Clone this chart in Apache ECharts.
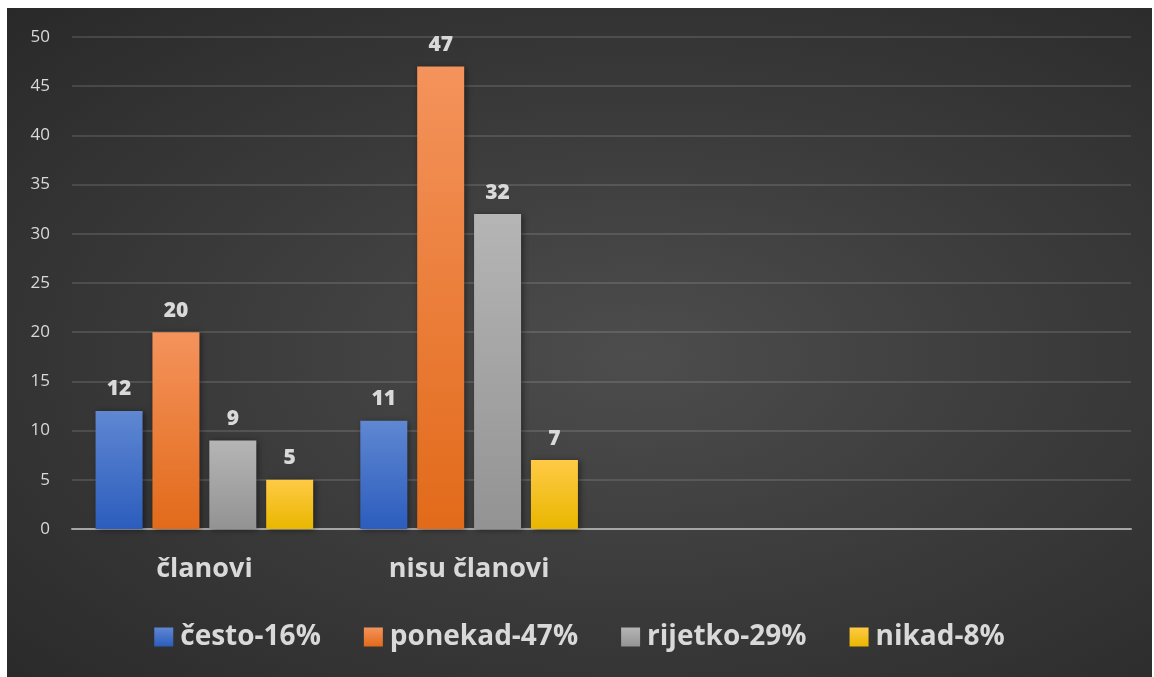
<!DOCTYPE html>
<html>
<head>
<meta charset="utf-8">
<script src="https://cdn.jsdelivr.net/npm/echarts@6/dist/echarts.min.js"></script>
<style>
    html, body {
        margin: 0;
        padding: 0;
        width: 1154px;
        height: 677px;
        background: #ffffff;
        overflow: hidden;
    }
    #chart {
        position: absolute;
        left: 7px;
        top: 8px;
        width: 1145px;
        height: 669px;
        background: radial-gradient(ellipse at 55% 52%, #4d4d4d 0%, #3c3c3c 45%, #292929 100%);
    }
</style>
</head>
<body>
<div id="chart"></div>
<script>
// kategorije (zadnje dvije su prazne u originalu)
const categories = ['članovi', 'nisu članovi', '', '']
const seriesNames = ['često-16%', 'ponekad-47%', 'rijetko-29%', 'nikad-8%']
const cesto = [12, 11, null, null]
const ponekad = [20, 47, null, null]
const rijetko = [9, 32, null, null]
const nikad = [5, 7, null, null]
const yTicks = { min: 0, max: 50, step: 5 }

const textColor = '#d9d9d9'
const fontFamily = '"Open Sans", Lato, sans-serif'

function grad(top, bottom) {
    return new echarts.graphic.LinearGradient(0, 0, 0, 1, [
        { offset: 0, color: top },
        { offset: 1, color: bottom }
    ])
}

const colors = [
    grad('#5f87d2', '#2c5dbd'),
    grad('#f4935c', '#e26a1a'),
    grad('#b5b5b5', '#939393'),
    grad('#ffca45', '#e9b700')
]

function makeSeries(name, data, i) {
    return {
        name: name,
        type: 'bar',
        data: data,
        barWidth: 47,
        barGap: '21%',
        itemStyle: {
            color: colors[i],
            shadowColor: 'rgba(0,0,0,0.45)',
            shadowBlur: 6,
            shadowOffsetX: 2,
            shadowOffsetY: 1
        },
        label: {
            show: true,
            position: 'top',
            distance: 11,
            color: textColor,
            fontFamily: fontFamily,
            fontWeight: 800,
            fontSize: 21
        }
    }
}

const chart = echarts.init(document.getElementById('chart'))
const option = {
    backgroundColor: 'transparent',
    animation: false,
    grid: {
        left: 65,
        right: 21,
        top: 29,
        bottom: 148
    },
    legend: {
        bottom: 21,
        left: 'center',
        itemWidth: 19,
        itemHeight: 19,
        itemGap: 43,
        icon: 'rect',
        textStyle: {
            color: textColor,
            fontFamily: fontFamily,
            fontWeight: 'bold',
            fontSize: 28,
            padding: [0, 0, 0, 2]
        },
        data: seriesNames
    },
    xAxis: {
        type: 'category',
        data: categories,
        axisLine: {
            lineStyle: { color: '#a6a6a6', width: 2 }
        },
        axisTick: { show: false },
        axisLabel: {
            color: textColor,
            fontFamily: fontFamily,
            fontWeight: 'bold',
            fontSize: 27,
            margin: 27
        }
    },
    yAxis: {
        type: 'value',
        min: yTicks.min,
        max: yTicks.max,
        interval: yTicks.step,
        axisLine: { show: false },
        axisTick: { show: false },
        axisLabel: {
            color: textColor,
            fontFamily: fontFamily,
            fontSize: 17,
            margin: 22
        },
        splitLine: {
            lineStyle: { color: 'rgba(255,255,255,0.12)', width: 2 }
        }
    },
    series: [
        makeSeries(seriesNames[0], cesto, 0),
        makeSeries(seriesNames[1], ponekad, 1),
        makeSeries(seriesNames[2], rijetko, 2),
        makeSeries(seriesNames[3], nikad, 3)
    ]
}
chart.setOption(option)
</script>
</body>
</html>
